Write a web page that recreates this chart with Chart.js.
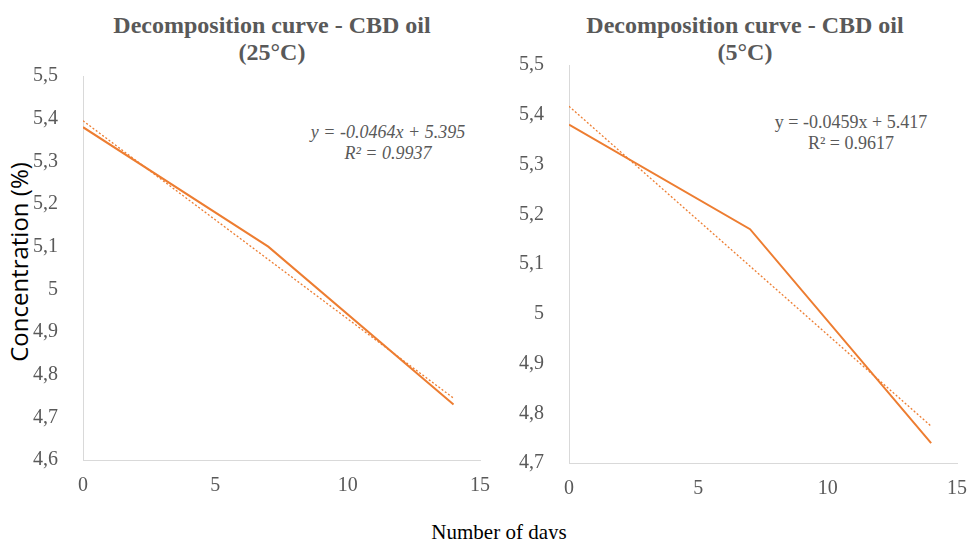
<!DOCTYPE html>
<html>
<head>
<meta charset="utf-8">
<script src="https://cdn.jsdelivr.net/npm/chart.js@4.4.0/dist/chart.umd.min.js"></script>
<style>
    body { margin: 0; width: 969px; height: 539px; background: #fff; position: relative; overflow: hidden; font-family: "Liberation Serif", "Times New Roman", serif; }
    canvas { position: absolute; top: 0; }
    .title { position: absolute; width: 420px; text-align: center; font-weight: bold; font-size: 24px; line-height: 27px; color: #595959; white-space: nowrap; }
    .eq { position: absolute; width: 260px; text-align: center; font-size: 18px; line-height: 21px; color: #595959; white-space: nowrap; }
    .ylabel { position: absolute; width: 300px; height: 30px; line-height: 30px; text-align: center; font-family: "Open Sans", sans-serif; font-size: 24px; color: #000; transform: rotate(-90deg); white-space: nowrap; }
    .xlabel { position: absolute; width: 240px; height: 24px; line-height: 24px; text-align: center; font-size: 21px; color: #000; white-space: nowrap; }
</style>
</head>
<body>
<div class="title" style="left:62px; top:12px;">Decomposition curve - CBD oil<br>(25°C)</div>
<div class="title" style="left:535px; top:12px;">Decomposition curve - CBD oil<br>(5°C)</div>
<div class="eq" style="left:258px; top:122px; font-style:italic;">y = -0.0464x + 5.395<br>R² = 0.9937</div>
<div class="eq" style="left:721px; top:112px;">y = -0.0459x + 5.417<br>R² = 0.9617</div>
<div class="ylabel" style="left:-131px; top:247px;">Concentration (%)</div>
<div class="xlabel" style="left:379px; top:520px;">Number of days</div>

<canvas id="chart25" width="490" height="500" style="left:0"></canvas>
<canvas id="chart5" width="479" height="500" style="left:490px"></canvas>

<script>
    // days of measurement
    const days = [0, 7, 14];

    // 25°C measured concentration and linear trend (end points)
    const conc25 = [5.38, 5.10, 4.73];
    const trendDays = [0, 14];
    const trend25 = [5.395, 4.745];

    // 5°C measured concentration and linear trend (end points)
    const conc5 = [5.38, 5.17, 4.74];
    const trend5 = [5.417, 4.774];

    const xTicks = [0, 5, 10, 15];
    const yRange25 = [4.6, 5.5];
    const yRange5 = [4.7, 5.5];

    const orange = '#ED7D31';
    const tickColor = '#595959';
    const axisColor = '#d9d9d9';
    const serif = '"Liberation Serif", "Times New Roman", serif';

    const toPoints = (xs, ys) => xs.map((x, i) => ({ x, y: ys[i] }));
    const commaFmt = v => String(Math.round(v * 10) / 10).replace('.', ',');

    function makeChart(id, conc, trend, yRange, opts) {
        const ctx = document.getElementById(id).getContext('2d');
        return new Chart(ctx, {
            type: 'line',
            data: {
                datasets: [
                    { label: 'Concentration', data: toPoints(days, conc), borderColor: orange, borderWidth: 2, pointRadius: 0, tension: 0 },
                    { label: 'Linear trend', data: toPoints(trendDays, trend), borderColor: orange, borderWidth: 1.3, borderDash: [2, 2], pointRadius: 0, tension: 0 }
                ]
            },
            options: {
                responsive: false,
                animation: false,
                events: [],
                layout: { padding: opts.padding },
                plugins: { legend: { display: false }, title: { display: false }, tooltip: { enabled: false } },
                scales: {
                    x: {
                        type: 'linear',
                        min: xTicks[0],
                        max: xTicks[xTicks.length - 1],
                        grid: { display: false },
                        border: { display: true, color: axisColor, width: 1 },
                        afterBuildTicks: axis => { axis.ticks = xTicks.map(v => ({ value: v })); },
                        afterFit: axis => {
                            axis.height = opts.xHeight;
                            axis.paddingLeft = 0;
                            axis.paddingRight = 0;
                        },
                        ticks: { color: tickColor, padding: 6, font: { family: serif, size: 20 } }
                    },
                    y: {
                        min: yRange[0],
                        max: yRange[1],
                        grid: { display: false },
                        border: { display: true, color: axisColor, width: 1 },
                        afterFit: axis => {
                            axis.width = opts.yWidth;
                            axis.paddingTop = 0;
                            axis.paddingBottom = 0;
                        },
                        ticks: {
                            stepSize: 0.1,
                            autoSkip: false,
                            color: tickColor,
                            padding: opts.yPad,
                            font: { family: serif, size: 20 },
                            callback: commaFmt
                        }
                    }
                }
            }
        });
    }

    makeChart('chart25', conc25, trend25, yRange25, { padding: { left: 28, right: 10, top: 76, bottom: 0 }, yWidth: 55, xHeight: 40, yPad: 17 });
    makeChart('chart5', conc5, trend5, yRange5, { padding: { left: 20, right: 12, top: 65, bottom: 0 }, yWidth: 59, xHeight: 37, yPad: 17 });
</script>
</body>
</html>
